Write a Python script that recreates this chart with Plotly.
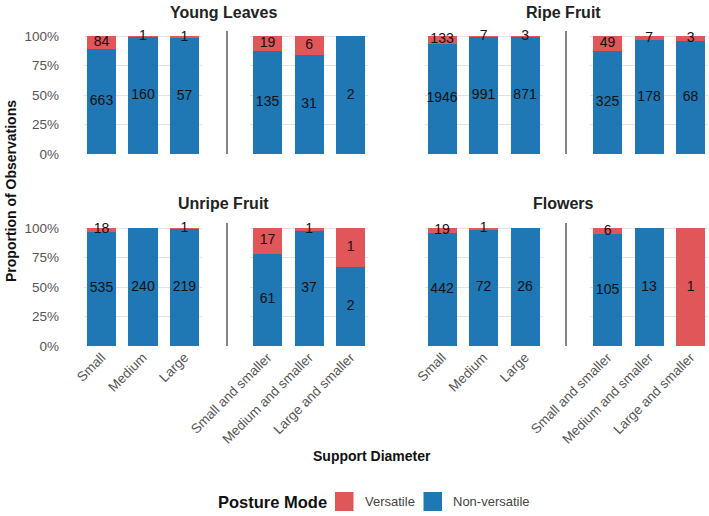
import plotly.graph_objects as go

W, H = 709, 516

facets = ["Young Leaves", "Ripe Fruit", "Unripe Fruit", "Flowers"]
cats_abs = ["Small", "Medium", "Large"]
cats_cum = ["Small and smaller", "Medium and smaller", "Large and smaller"]

# counts: [abs Small, Medium, Large, cum Small&smaller, Medium&smaller, Large&smaller]
nonvers_young = [663, 160, 57, 135, 31, 2]
vers_young = [84, 1, 1, 19, 6, 0]
nonvers_ripe = [1946, 991, 871, 325, 178, 68]
vers_ripe = [133, 7, 3, 49, 7, 3]
nonvers_unripe = [535, 240, 219, 61, 37, 2]
vers_unripe = [18, 0, 1, 17, 1, 1]
nonvers_flowers = [442, 72, 26, 105, 13, 0]
vers_flowers = [19, 1, 0, 6, 0, 1]

nonvers = [nonvers_young, nonvers_ripe, nonvers_unripe, nonvers_flowers]
vers = [vers_young, vers_ripe, vers_unripe, vers_flowers]

y_ticks = [0, 0.25, 0.5, 0.75, 1.0]
y_ticktext = ["0%", "25%", "50%", "75%", "100%"]

RED = "#E15759"
BLUE = "#1F77B4"
FONT = "Liberation Sans, Arial, Helvetica, sans-serif"

def px_x(p):
    return p / W

def px_y(p):
    return 1 - p / H

# layout geometry (pixels)
group_x = {0: [(84.1, 201.9), (250.1, 368.0)], 1: [(424.6, 542.5), (590.1, 708.0)]}
row_y = {0: (31, 154), 1: (223, 346)}
sep_x = {0: 227, 1: 566}
title_x = {0: 223, 1: 563}
title_y = {0: 12, 1: 203}
yrange = [0, 123 / 118]

fig = go.Figure()
layout = {}
shapes = []
annotations = []

for fi, fname in enumerate(facets):
    r, c = divmod(fi, 2)
    for g in range(2):
        k = fi * 2 + g + 1
        xa = "x" if k == 1 else f"x{k}"
        ya = "y" if k == 1 else f"y{k}"
        cats = cats_abs if g == 0 else cats_cum
        nv = nonvers[fi][g * 3:(g + 1) * 3]
        v = vers[fi][g * 3:(g + 1) * 3]
        tot = [a + b for a, b in zip(nv, v)]
        p_nv = [a / t for a, t in zip(nv, tot)]
        p_v = [b / t for b, t in zip(v, tot)]
        fig.add_trace(go.Bar(x=cats, y=p_nv, marker_color=BLUE, marker_line_width=0,
                             width=0.7, name="Non-versatile", showlegend=False,
                             xaxis=xa, yaxis=ya, hoverinfo="skip"))
        fig.add_trace(go.Bar(x=cats, y=p_v, base=p_nv, marker_color=RED, marker_line_width=0,
                             width=0.7, name="Versatile", showlegend=False,
                             xaxis=xa, yaxis=ya, hoverinfo="skip"))
        # labels
        lx, ly, lt = [], [], []
        for ci in range(3):
            if nv[ci] > 0:
                lx.append(cats[ci]); ly.append(p_nv[ci] / 2); lt.append(str(nv[ci]))
            if v[ci] > 0:
                lx.append(cats[ci]); ly.append(p_nv[ci] + p_v[ci] / 2); lt.append(str(v[ci]))
        fig.add_trace(go.Scatter(x=lx, y=ly, text=lt, mode="text",
                                 textfont=dict(family=FONT, size=14, color="#111111"),
                                 showlegend=False, xaxis=xa, yaxis=ya, hoverinfo="skip",
                                 cliponaxis=False))
        x0, x1 = group_x[c][g]
        y0, y1 = row_y[r]
        layout["xaxis" if k == 1 else f"xaxis{k}"] = dict(
            domain=[px_x(x0), px_x(x1)], anchor=ya, type="category",
            categoryorder="array", categoryarray=cats,
            range=[-0.42, 2.42], showgrid=False, zeroline=False, showline=False,
            ticks="", showticklabels=(r == 1), tickangle=-45,
            tickfont=dict(family=FONT, size=13.5, color="#555555"),
            automargin=False, fixedrange=True)
        layout["yaxis" if k == 1 else f"yaxis{k}"] = dict(
            domain=[px_y(y1 - 0), px_y(y0 + (5 if False else 0))] if False else [px_y(y1), px_y(y0)],
            anchor=xa, range=yrange, tickvals=y_ticks, ticktext=y_ticktext,
            showticklabels=(c == 0 and g == 0), showgrid=True, gridcolor="#E3E3E3",
            gridwidth=1, zeroline=False, showline=False, ticks="",
            tickfont=dict(family=FONT, size=13.5, color="#555555"),
            ticklabelstandoff=24, automargin=False, fixedrange=True)
    # separator
    y0, y1 = row_y[r]
    shapes.append(dict(type="line", xref="paper", yref="paper",
                       x0=px_x(sep_x[c]), x1=px_x(sep_x[c]), y0=px_y(y0), y1=px_y(y1),
                       line=dict(color="#333333", width=1.2)))
    annotations.append(dict(text=f"<b>{fname}</b>", xref="paper", yref="paper",
                            x=px_x(title_x[c]), y=px_y(title_y[r]), xanchor="center",
                            yanchor="middle", showarrow=False,
                            font=dict(family=FONT, size=16, color="#222222")))

# axis titles
annotations.append(dict(text="<b>Proportion of Observations</b>", xref="paper", yref="paper",
                        x=px_x(11), y=px_y(191), textangle=-90, showarrow=False,
                        xanchor="center", yanchor="middle",
                        font=dict(family=FONT, size=14, color="#111111")))
annotations.append(dict(text="<b>Support Diameter</b>", xref="paper", yref="paper",
                        x=px_x(372), y=px_y(456), showarrow=False,
                        xanchor="center", yanchor="middle",
                        font=dict(family=FONT, size=14, color="#111111")))

# legend (manual)
leg_y = 501.5
annotations.append(dict(text="<b>Posture Mode</b>", xref="paper", yref="paper",
                        x=px_x(216), y=px_y(leg_y), showarrow=False,
                        xanchor="left", yanchor="middle",
                        font=dict(family=FONT, size=16.5, color="#111111")))
for key_x0, col, label in [(335, RED, "Versatile"), (423.5, BLUE, "Non-versatile")]:
    shapes.append(dict(type="rect", xref="paper", yref="paper",
                       x0=px_x(key_x0), x1=px_x(key_x0 + 18.5),
                       y0=px_y(leg_y + 9.5), y1=px_y(leg_y - 9.5),
                       fillcolor=col, line=dict(width=0)))
    annotations.append(dict(text=label, xref="paper", yref="paper",
                            x=px_x(key_x0 + 27.5), y=px_y(leg_y), showarrow=False,
                            xanchor="left", yanchor="middle",
                            font=dict(family=FONT, size=13, color="#444444")))

fig.update_layout(**layout)
fig.update_layout(width=W, height=H, margin=dict(l=0, r=0, t=0, b=0),
                  barmode="stack", bargap=0.3, plot_bgcolor="white", paper_bgcolor="white",
                  shapes=shapes, annotations=annotations, showlegend=False,
                  font=dict(family=FONT))

fig.write_html("out.html")
